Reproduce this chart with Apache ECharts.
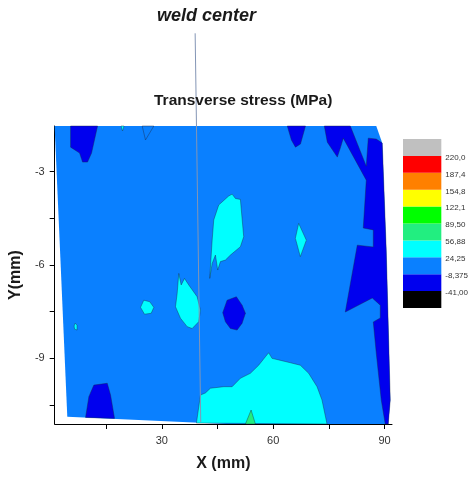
<!DOCTYPE html>
<html>
<head>
<meta charset="utf-8">
<title>Transverse stress</title>
<script src="https://cdn.jsdelivr.net/npm/echarts@6/dist/echarts.min.js"></script>
</head>
<body style="margin:0;background:#fff">
<div id="mainChart" style="width:471px;height:479px;"></div>
<script type="text/javascript">
// contour levels (MPa) and the labels of the colour bar, bottom to top
var stressLevels = [-41, -8.375, 24.25, 56.88, 89.5, 122.1, 154.8, 187.4, 220];
var levelLabels = ['-41,00', '-8,375', '24,25', '56,88', '89,50', '122,1', '154,8', '187,4', '220,0'];
var xTicks = [15, 30, 45, 60, 75, 90];
var xLabels = [30, 60, 90];
var yTicks = [-3, -4.5, -6, -7.5, -9, -10.5];
var yLabels = [-3, -6, -9];

// contour regions, [x mm, y mm]
var measured = [[1.13, -1.53], [87.76, -1.53], [89.37, -2.08], [90.45, -5.52], [91.53, -10.34], [90.99, -11.11], [47.4, -11.11], [4.55, -10.88]];
var darkTopLeft = [[5.43, -1.53], [5.43, -2.21], [7.86, -2.4], [8.66, -2.69], [10.0, -2.69], [11.08, -2.4], [12.7, -1.53]];
var darkTopMid = [[63.8, -1.53], [64.9, -1.98], [66.0, -2.21], [67.35, -2.11], [68.7, -1.53]];
var darkRight = [[73.77, -1.53], [80.77, -1.53], [85.07, -2.82], [85.61, -1.92], [87.76, -1.95], [89.37, -2.08], [90.45, -5.52],
  [91.53, -10.34], [90.99, -11.11], [90.18, -11.11], [89.11, -10.34], [87.76, -8.83], [86.96, -7.83], [88.84, -7.7],
  [88.84, -7.29], [86.69, -7.06], [79.42, -7.51], [82.65, -5.36], [86.96, -5.42], [86.96, -4.87], [84.26, -4.81],
  [85.07, -3.27], [78.88, -1.92], [78.08, -2.24], [77.27, -2.53], [74.58, -2.05]];
var darkBottomLeft = [[9.47, -10.9], [10.36, -10.23], [11.7, -9.86], [15.31, -9.8], [16.2, -10.18], [17.27, -10.93]];
var darkCenter = [[47.59, -7.13], [50.09, -7.02], [51.63, -7.29], [52.52, -7.55], [51.63, -7.87], [50.28, -8.09], [48.48, -8.04], [47.13, -7.82], [46.41, -7.53]];
var cyanUpper = [[48.02, -3.78], [48.94, -3.72], [49.83, -3.86], [51.17, -3.89], [52.06, -5.09], [51.17, -5.41], [48.48, -5.68],
  [47.13, -5.84], [45.79, -5.89], [45.06, -6.16], [44.44, -5.68], [43.56, -5.95], [42.91, -6.43], [43.56, -5.2], [43.99, -4.55], [45.33, -4.07]];
var cyanDiamond = [[66.86, -4.66], [68.93, -5.2], [67.31, -5.73], [65.97, -5.14]];
var cyanLeft = [[34.57, -6.27], [35.22, -6.64], [36.11, -6.43], [37.26, -6.64], [39.52, -7.02], [40.41, -7.45], [39.95, -7.82],
  [38.18, -8.04], [36.83, -7.98], [35.03, -7.71], [33.69, -7.34], [34.14, -6.91]];
var cyanSmall = [[25.15, -7.13], [26.77, -7.18], [27.85, -7.36], [27.15, -7.55], [25.34, -7.58], [24.27, -7.36]];
var cyanDot = [[6.65, -7.87], [7.18, -7.93], [7.18, -8.09], [6.51, -8.06], [6.38, -7.96]];
var cyanSpeck = [[19.02, -1.53], [19.42, -1.69], [19.83, -1.53]];
var cyanBottom = [[39.33, -11.08], [40.41, -10.18], [41.75, -10.11], [43.1, -9.96], [46.68, -9.91], [48.94, -9.91], [51.17, -9.64],
  [53.86, -9.48], [56.09, -9.22], [57.9, -8.95], [58.78, -8.82], [59.7, -9.0], [61.47, -9.05], [64.62, -9.14], [67.31, -9.22],
  [69.55, -9.48], [71.81, -9.91], [73.15, -10.34], [74.5, -11.11]];
var greenPeak = [[52.52, -11.11], [54.05, -10.66], [55.21, -11.11]];
var blueNotch = [[24.72, -1.53], [25.61, -1.98], [27.85, -1.53]];

// weld center marker [x mm, y mm]
var weldLine = [[38.98, 1.45], [40.49, -11.05]];

var regions = [
  { pts: measured, value: 8, edge: false },
  { pts: darkTopLeft, value: -20 },
  { pts: darkTopMid, value: -20 },
  { pts: darkRight, value: -20 },
  { pts: darkBottomLeft, value: -20 },
  { pts: darkCenter, value: -20 },
  { pts: blueNotch, value: 8 },
  { pts: cyanUpper, value: 38 },
  { pts: cyanDiamond, value: 38 },
  { pts: cyanLeft, value: 38 },
  { pts: cyanSmall, value: 38 },
  { pts: cyanDot, value: 38 },
  { pts: cyanSpeck, value: 38 },
  { pts: cyanBottom, value: 38 },
  { pts: greenPeak, value: 70 }
];

var levelColors = ['#000000', '#0000ee', '#0a80ff', '#00ffff', '#22ee80', '#00ff00', '#ffff00', '#ff8000', '#ff0000', '#c0c0c0'];

var pieces = [];
for (var i = 0; i <= stressLevels.length; i++) {
  var p = { color: levelColors[i] };
  if (i > 0) p.gte = stressLevels[i - 1];
  if (i < stressLevels.length) p.lt = stressLevels[i];
  pieces.push(p);
}

var barSeries = levelColors.map(function (c) {
  return {
    type: 'bar', xAxisIndex: 1, yAxisIndex: 1, stack: 'bar',
    barWidth: '100%', silent: true, data: [1],
    itemStyle: { color: c }
  };
});

// colour bar labels sit just under each boundary
var barLabelPos = levelLabels.map(function (l, i) { return i + 0.9; });

var font = 'Liberation Sans, Arial, sans-serif';
var myChart = echarts.init(document.getElementById('mainChart'));
var option = {
  animation: false,
  backgroundColor: '#fff',
  title: [{
    text: 'weld center', left: 157, top: 7, padding: 0,
    textStyle: { fontSize: 18, fontWeight: 'bold', fontStyle: 'italic', color: '#1a1a1a', fontFamily: font }
  }, {
    text: 'Transverse stress (MPa)', left: 154, top: 93, padding: 0,
    textStyle: { fontSize: 15.5, fontWeight: 'bold', color: '#1a1a1a', fontFamily: font }
  }],
  visualMap: {
    type: 'piecewise', show: false, seriesIndex: 0, dimension: 1, pieces: pieces
  },
  grid: [
    { left: 54, top: 126, width: 338, height: 298 },
    { left: 403, top: 139, width: 39, height: 169 }
  ],
  xAxis: [{
    type: 'value', min: 1.15, max: 92,
    axisLine: { lineStyle: { color: '#000', width: 1 } },
    axisTick: { customValues: xTicks, length: 5, lineStyle: { color: '#000' } },
    axisLabel: { customValues: xLabels, color: '#333', fontSize: 11, margin: 11, fontFamily: font },
    splitLine: { show: false },
    name: 'X (mm)', nameLocation: 'middle', nameGap: 32,
    nameTextStyle: { fontSize: 16, fontWeight: 'bold', color: '#1a1a1a', fontFamily: font }
  }, {
    gridIndex: 1, type: 'category', data: ['bar'], show: false
  }],
  yAxis: [{
    type: 'value', min: -11.11, max: -1.53,
    axisLine: { lineStyle: { color: '#000', width: 1 } },
    axisTick: { customValues: yTicks, length: 5, lineStyle: { color: '#000' } },
    axisLabel: { customValues: yLabels, color: '#333', fontSize: 11, margin: 10, fontFamily: font },
    splitLine: { show: false },
    name: 'Y(mm)', nameLocation: 'middle', nameGap: 27,
    nameTextStyle: { fontSize: 16, fontWeight: 'bold', color: '#1a1a1a', fontFamily: font }
  }, {
    gridIndex: 1, type: 'value', position: 'right', min: 0, max: levelColors.length,
    axisLine: { show: false }, axisTick: { show: false }, splitLine: { show: false },
    axisLabel: {
      customValues: barLabelPos, margin: 4, color: '#333', fontSize: 8, fontFamily: font,
      formatter: function (v) { return levelLabels[Math.round(v) - 1]; }
    }
  }],
  series: [{
    type: 'custom',
    silent: true,
    data: regions.map(function (r, i) { return [i, r.value]; }),
    renderItem: function (params, api) {
      var r = regions[api.value(0)];
      var pts = r.pts.map(function (p) { return api.coord(p); });
      return {
        type: 'polygon',
        shape: { points: pts },
        style: {
          fill: api.visual('color'),
          stroke: r.edge === false ? null : '#1c2440',
          lineWidth: 0.4
        }
      };
    }
  }, {
    type: 'line', data: weldLine, symbol: 'none', clip: false, silent: true, z: 5,
    lineStyle: { color: '#8496b6', width: 1 }
  }].concat(barSeries)
};
myChart.setOption(option);
</script>
</body>
</html>
